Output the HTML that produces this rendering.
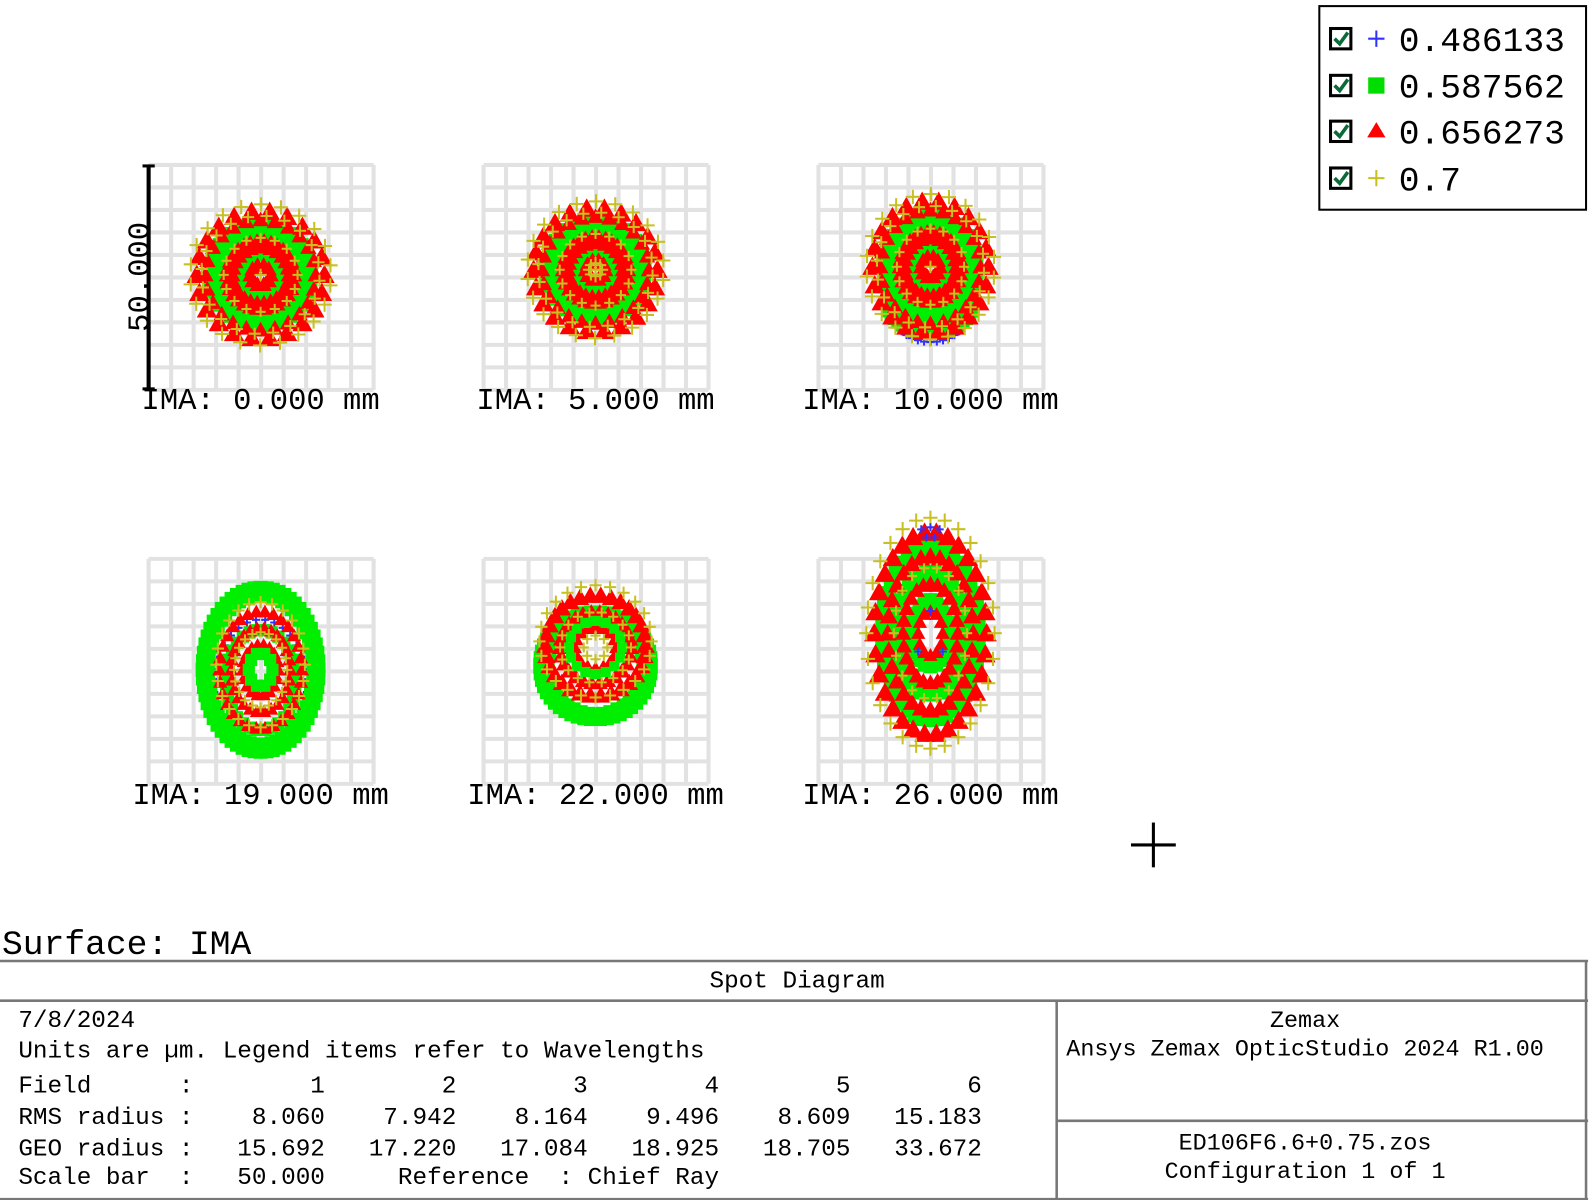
<!DOCTYPE html>
<html><head><meta charset="utf-8">
<style>
html,body{margin:0;padding:0;background:#fff;}
body{width:1596px;height:1200px;overflow:hidden;position:relative;font-family:"Liberation Mono",monospace;}
svg{position:absolute;left:0;top:0;}
text{white-space:pre;}
</style></head>
<body>
<svg id="s" width="1596" height="1200" xmlns="http://www.w3.org/2000/svg" font-family="Liberation Mono, monospace">
<g transform="scale(1.018)">
<g id="grids"></g>
<g id="spots"></g>
<line x1="146" y1="162" x2="146" y2="383" stroke="#000" stroke-width="4"/>
<line x1="140" y1="163" x2="152" y2="163" stroke="#000" stroke-width="3"/>
<line x1="140" y1="382" x2="152" y2="382" stroke="#000" stroke-width="3"/>
<text x="0" y="0" font-size="30" transform="translate(146,272) rotate(-90)" text-anchor="middle" fill="#000">50.000</text>
<g font-size="30" fill="#000" text-anchor="middle">
<text x="256" y="402">IMA: 0.000 mm</text>
<text x="585" y="402">IMA: 5.000 mm</text>
<text x="914" y="402">IMA: 10.000 mm</text>
<text x="256" y="790">IMA: 19.000 mm</text>
<text x="585" y="790">IMA: 22.000 mm</text>
<text x="914" y="790">IMA: 26.000 mm</text>
</g>
<line x1="1111" y1="830" x2="1155" y2="830" stroke="#000" stroke-width="3"/>
<line x1="1133" y1="808" x2="1133" y2="852" stroke="#000" stroke-width="3"/>
<rect x="1296" y="6" width="262" height="200" fill="#fff" stroke="#000" stroke-width="2"/>
<g id="leg"></g>
<g font-size="34" fill="#000">
<text x="1374" y="50">0.486133</text>
<text x="1374" y="96">0.587562</text>
<text x="1374" y="141">0.656273</text>
<text x="1374" y="187">0.7</text>
</g>
<text x="2" y="937" font-size="34" fill="#000">Surface: IMA</text>
<g stroke="#777" stroke-width="2.5" fill="none">
<line x1="0" y1="944" x2="1560" y2="944"/>
<line x1="0" y1="983" x2="1560" y2="983"/>
<line x1="0" y1="1178" x2="1560" y2="1178"/>
<line x1="1558" y1="944" x2="1558" y2="1178"/>
<line x1="1038" y1="983" x2="1038" y2="1178"/>
<line x1="1038" y1="1101" x2="1560" y2="1101"/>
</g>
<g font-size="23.9" fill="#000">
<text x="783" y="970" text-anchor="middle">Spot Diagram</text>
<text x="18" y="1009">7/8/2024</text>
<text x="18" y="1039">Units are µm. Legend items refer to Wavelengths</text>
<text x="18" y="1073">Field      :        1        2        3        4        5        6</text>
<text x="18" y="1104">RMS radius :    8.060    7.942    8.164    9.496    8.609   15.183</text>
<text x="18" y="1135">GEO radius :   15.692   17.220   17.084   18.925   18.705   33.672</text>
<text x="18" y="1163">Scale bar  :   50.000     Reference  : Chief Ray</text>
</g>
<g font-size="23" fill="#000">
<text x="1282" y="1009" text-anchor="middle">Zemax</text>
<text x="1282" y="1037" text-anchor="middle">Ansys Zemax OpticStudio 2024 R1.00</text>
<text x="1282" y="1129" text-anchor="middle">ED106F6.6+0.75.zos</text>
<text x="1282" y="1157" text-anchor="middle">Configuration 1 of 1</text>
</g>
</g>
</svg>
<script>
var NS="http://www.w3.org/2000/svg";
function el(p,t,a){var e=document.createElementNS(NS,t);for(var k in a)e.setAttribute(k,a[k]);p.appendChild(e);return e;}
var G=document.getElementById('grids'),S=document.getElementById('spots'),L=document.getElementById('leg');
var centers=[[256,272],[585,272],[914,272],[256,659],[585,659],[914,659]];
centers.forEach(function(c){
  var x0=c[0]-110,y0=c[1]-110,w=221;
  var d="";
  for(var i=0;i<=10;i++){var v=i*w/10;d+="M"+(x0+v)+" "+y0+"V"+(y0+w)+"M"+x0+" "+(y0+v)+"H"+(x0+w);}
  el(G,'path',{d:d,stroke:"#e2e2e2","stroke-width":4,fill:"none"});
});
function mk(t,x,y,s){
  if(t==0){el(S,'path',{d:"M"+(x-s)+" "+y+"H"+(x+s)+"M"+x+" "+(y-s)+"V"+(y+s),stroke:"#3030ff","stroke-width":2});}
  else if(t==1){el(S,'rect',{x:x-s,y:y-s,width:2*s,height:2*s,fill:"#00ee00"});}
  else if(t==2){el(S,'path',{d:"M"+x+" "+(y-s)+"L"+(x+s)+" "+(y+s*0.8)+"L"+(x-s)+" "+(y+s*0.8)+"Z",fill:"#ff0000"});}
  else {el(S,'path',{d:"M"+(x-s)+" "+y+"H"+(x+s)+"M"+x+" "+(y-s)+"V"+(y+s),stroke:"#c8c020","stroke-width":2});}
}
function spot(cx,cy,rx,ry,rings){
  rings.forEach(function(r){
    for(var i=0;i<r[2];i++){var a=2*Math.PI*i/r[2]+(r[5]||0);
      mk(r[0],cx+Math.cos(a)*rx*r[1],cy+(r[4]||0)+Math.sin(a)*ry*r[1],r[3]);}
  });
}
var std=[[1,0.75,40,7],[1,0.62,36,7],[1,0.3,24,6],[2,0.95,22,10],[2,0.82,24,8],[2,0.5,30,8],[2,0.42,26,8],[2,0.15,10,8],[3,1.05,22,7,0,0.15],[3,0.88,20,6,0,0.1],[3,0.55,16,5],[3,0,1,6]];
spot(256,270,66,66,std);
spot(585,265,64,64,std.slice(0,11).concat([[3,0.1,8,6],[3,0,1,8]]));
for(var i=0;i<=16;i++){var a=Math.PI*(0.1+0.8*i/16);mk(0,914+Math.cos(a)*40,300+Math.sin(a)*36,4);}
for(var i=0;i<=20;i++){var a=Math.PI*(0.05+0.9*i/20);mk(1,914+Math.cos(a)*42,296+Math.sin(a)*30,7);mk(1,914+Math.cos(a)*36,292+Math.sin(a)*24,6);}
spot(914,262,60,68,std);
spot(256,658,58,82,[[0,0.75,30,4,12],[1,0.98,60,7],[1,0.9,60,7],[1,0.6,30,6,10],[2,0.7,30,7],[2,0.5,26,7],[2,0.3,18,7],[3,0.75,24,6,-5],[3,0.45,20,5],[1,0.2,10,6]]);
spot(585,648,56,54,[[1,0.95,50,8,6],[1,0.85,40,7,8]]);
spot(585,636,58,58,[[2,0.85,30,9,-2],[2,0.6,26,8],[2,0.35,16,7],[1,0.45,16,5],[3,0.95,24,6,-6],[3,0.6,18,5],[3,0.2,8,5]]);
spot(914,622,60,108,[[1,0.78,40,8],[1,0.55,34,8],[1,0.3,20,7],[2,0.92,30,10],[2,0.7,28,9],[2,0.45,24,8],[2,0.2,12,7],[3,1.05,28,7],[3,0.6,18,5]]);
[[905,520],[914,518],[923,520],[910,528],[918,528],[914,600],[902,640],[926,640]].forEach(function(p){mk(0,p[0],p[1],4);});
[["#3030ff",0],["#00dd00",1],["#ff0000",2],["#c8c020",3]].forEach(function(c,i){
  var y=[38,84,129,175][i];
  el(L,'rect',{x:1307,y:y-10,width:20,height:20,fill:"#fff",stroke:"#000","stroke-width":3});
  el(L,'path',{d:"M1311 "+y+"L1316 "+(y+5)+"L1324 "+(y-6),stroke:"#0a6a3a","stroke-width":3.5,fill:"none"});
  var x=1352;
  if(i==0||i==3) el(L,'path',{d:"M"+(x-8)+" "+y+"H"+(x+8)+"M"+x+" "+(y-8)+"V"+(y+8),stroke:c[0],"stroke-width":2});
  else if(i==1) el(L,'rect',{x:x-8,y:y-8,width:16,height:16,fill:c[0]});
  else el(L,'path',{d:"M"+x+" "+(y-9)+"L"+(x+9)+" "+(y+6)+"L"+(x-9)+" "+(y+6)+"Z",fill:c[0]});
});
</script>
</body></html>
